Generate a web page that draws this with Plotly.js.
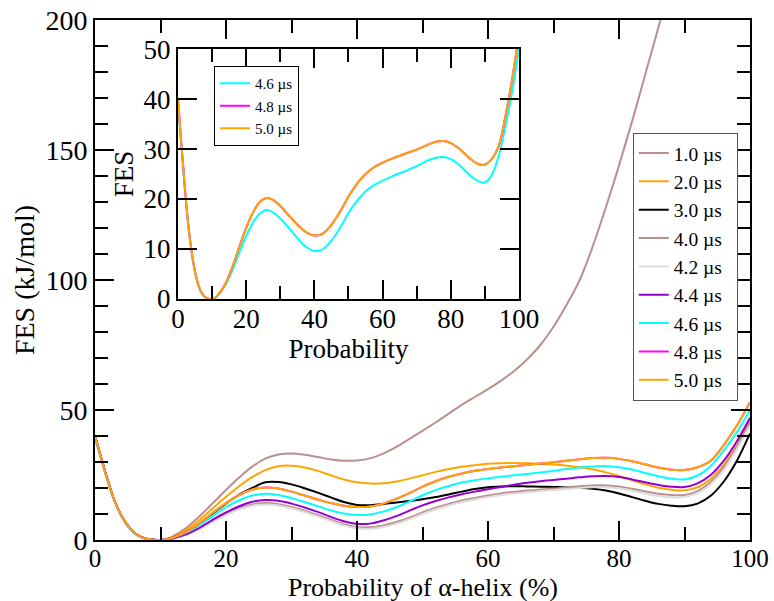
<!DOCTYPE html>
<html><head><meta charset="utf-8">
<script src="https://cdn.plot.ly/plotly-3.0.1.min.js"></script>
<style>html,body{margin:0;padding:0;background:#fff}#chart{width:774px;height:601px}</style>
</head><body><div id="chart"></div>
<script>
const xProb = [0,1,2,3,4,5,6,7,8,9,10,11,12,14,16,18,20,22,24,26,28,30,32,34,36,38,40,42,44,46,48,50,52,54,56,58,60,62,64,66,68,70,72,74,76,78,80,82,84,86,88,90,92,94,96,98,100];

const fes10 = [40,31,22.5,15,9.5,5.5,2.8,1.2,0.4,0.05,0,0.5,1.6,
  4.8,9.2,14.2,19.2,24.0,28.2,31.3,32.9,33.3,32.8,31.9,31.0,30.5,30.6,31.4,33.2,35.8,38.9,42.0,45.2,48.6,52.0,55.0,58.0,61.3,65.0,69.5,75,82,90.5,100,113,128,144,161,179,197,215,233,null,null,null,null,null];
const fes20 = [40,31,22.5,15,9.5,5.5,2.8,1.2,0.4,0.05,0,0.4,1.3,
  4.0,7.8,12.2,16.6,20.7,24.2,26.9,28.4,28.6,27.9,26.6,24.9,23.3,22.2,21.7,21.8,22.5,23.6,24.9,26.2,27.3,28.2,28.8,29.3,29.5,29.6,29.5,29.3,29.0,28.6,28.0,27.2,26.0,24.6,23.0,21.4,20.1,19.3,19.1,20.3,23.5,29,36.5,46];
const fes30 = [40,31,22.5,15,9.5,5.5,2.8,1.2,0.4,0.05,0,0.3,1.0,
  3.1,6.3,10.2,14.0,17.4,20.0,22.2,22.3,21.4,19.9,18.2,16.4,14.6,13.5,13.4,13.8,14.4,15.0,15.7,16.5,17.5,18.6,19.6,20.3,20.6,20.7,20.6,20.5,20.4,20.3,20.1,19.7,19.0,17.9,16.5,15.1,13.9,13.2,13.0,14.0,17,22.5,30.5,41];
const fes40 = [40,31,22.4,15,9.4,5.4,2.7,1.1,0.3,0,0,0.2,0.7,
  2.2,4.5,7.4,10.1,12.3,13.7,14.2,13.8,12.7,11.3,9.6,7.8,6.1,5.0,4.9,5.6,6.9,8.6,10.6,12.4,13.9,15.2,16.2,17.1,17.9,18.5,19.0,19.4,19.8,20.3,20.7,21.0,21.0,20.6,19.7,18.7,17.8,17.3,17.3,18.8,22.3,28,36,45.5];
const fes42 = [39.5,30.5,22,14.7,9.2,5.2,2.5,1.0,0.3,0,0,0.2,0.6,
  2.0,4.2,7.0,9.6,11.8,13.2,13.7,13.3,12.2,10.8,9.1,7.3,5.6,4.5,4.3,5.0,6.3,8.0,10.0,11.8,13.3,14.6,15.6,16.5,17.3,17.9,18.4,18.8,19.2,19.6,20.0,20.3,20.3,19.9,19.0,17.9,16.9,16.4,16.5,18.0,21.5,27,35,44];
const fes44 = [40,31,22.5,15,9.5,5.5,2.8,1.2,0.4,0.1,0,0.2,0.7,
  2.3,4.8,7.8,10.6,13.0,14.7,15.4,15.1,14.0,12.5,10.8,8.9,7.2,6.2,6.3,7.5,9.2,11.3,13.3,15.0,16.4,17.6,18.6,19.5,20.4,21.3,22.0,22.6,23.1,23.6,24.1,24.5,24.6,24.2,23.3,22.2,21.2,20.5,20.4,21.8,25,30.5,38,47];
const fes46 = [39,30.5,22,14.8,9.3,5.3,2.6,1.0,0.3,0,0,0.3,0.9,
  2.9,5.8,9.3,12.6,15.3,17.1,17.8,17.3,16.1,14.6,13.0,11.4,10.2,9.6,9.8,10.9,12.6,14.8,17.2,19.2,20.8,22.1,23.0,23.7,24.3,24.9,25.4,26.0,26.6,27.3,27.9,28.3,28.4,28.0,27.1,25.8,24.5,23.6,23.3,24.8,28.5,34.5,41.5,50];
const fes48 = [40,31,22.5,15,9.5,5.5,2.8,1.2,0.4,0.05,0,0.3,1.0,
  3.2,6.5,10.5,14.2,17.3,19.4,20.2,19.8,18.6,17.1,15.6,14.2,13.2,12.7,12.9,14.0,15.8,18.0,20.5,22.6,24.3,25.6,26.6,27.3,27.9,28.4,28.9,29.4,29.9,30.5,31.1,31.5,31.6,31.2,30.3,29.1,27.9,27.0,26.9,28.0,30.5,36.5,44,53];
const fes50 = [40,31,22.5,15,9.5,5.5,2.8,1.2,0.4,0.05,0,0.3,1.0,
  3.2,6.5,10.5,14.2,17.3,19.4,20.2,19.8,18.6,17.1,15.6,14.2,13.2,12.7,12.9,14.0,15.8,18.0,20.5,22.6,24.3,25.6,26.6,27.3,27.9,28.4,28.9,29.4,29.9,30.5,31.1,31.5,31.6,31.2,30.3,29.1,27.9,27.0,26.9,28.0,30.5,36.5,44,53];

const seriesNames = ["1.0 µs","2.0 µs","3.0 µs","4.0 µs","4.2 µs","4.4 µs","4.6 µs","4.8 µs","5.0 µs"];
const seriesData = [fes10,fes20,fes30,fes40,fes42,fes44,fes46,fes48,fes50];
const seriesColors = ["#bc8f8f","#ffa500","#000000","#bc8f8f","#dcdcdc","#9400d3","#00ffff","#ff00ff","#ffa500"];
const insetIdx = [6,7,8];
const xTitleMain = 'Probability of α-helix (%)';

const FONT = "'Liberation Serif'";
const PAD = "\u00a0\u00a0";
const traces = [];
seriesData.forEach((d,i)=>{
  traces.push({x:xProb, y:d, type:'scatter', mode:'lines', name:seriesNames[i] + PAD,
    line:{color:seriesColors[i], width:2, shape:'spline', smoothing:1},
    xaxis:'x', yaxis:'y', legend:'legend', hoverinfo:'skip'});
});
insetIdx.forEach(i=>{
  traces.push({x:xProb, y:seriesData[i], type:'scatter', mode:'lines', name:seriesNames[i],
    line:{color:seriesColors[i], width:2, shape:'spline', smoothing:1},
    xaxis:'x2', yaxis:'y2', legend:'legend2', hoverinfo:'skip'});
});

function ax(extra){
  return Object.assign({showline:true, linecolor:'#000', linewidth:2, mirror:'ticks',
    ticks:'inside', ticklen:19, tickwidth:2, tickcolor:'#000', showgrid:false, zeroline:false,
    tickfont:{family:FONT, size:28, color:'#000'}}, extra);
}
const MINOR = {ticklen:13, tickwidth:2, tickcolor:'#000', ticks:'inside'};
const layout = {
  width:774, height:601,
  margin:{l:95, r:24, t:20, b:61},
  paper_bgcolor:'#fff', plot_bgcolor:'#fff',
  font:{family:FONT, color:'#000'},
  showlegend:true,
  xaxis: ax({range:[0,100], domain:[0,1], anchor:'y', tick0:0, dtick:20, ticklabelstandoff:-5,
    tickfont:{family:FONT, size:25, color:'#000'},
    minor:Object.assign({dtick:10}, MINOR)}),
  yaxis: ax({range:[0,200], domain:[0,1], anchor:'x', tick0:0, dtick:50,
    minor:Object.assign({dtick:10}, MINOR),
    title:{text:'FES (kJ/mol)', font:{family:FONT, size:28, color:'#000'}, standoff:3}}),
  xaxis2: ax({range:[0,100], domain:[0.1267,0.6473], anchor:'y2', tick0:0, dtick:20, ticklabelstandoff:-5,
    tickfont:{family:FONT, size:27, color:'#000'},
    minor:Object.assign({dtick:10}, MINOR),
    title:{text:'Probability', font:{family:FONT, size:27, color:'#000'}, standoff:0}}),
  yaxis2: ax({range:[0,50], domain:[0.4635,0.944], anchor:'x2', tick0:0, dtick:10,
    tickfont:{family:FONT, size:27, color:'#000'},
    title:{text:'FES', font:{family:FONT, size:27, color:'#000'}, standoff:2}}),
  annotations:[{text:xTitleMain, xref:'paper', yref:'paper', x:0.5, y:-0.0615,
    xanchor:'center', yanchor:'top', showarrow:false, borderpad:0,
    font:{family:FONT, size:26, color:'#000'}}],
  legend:{x:0.821, y:0.783, xanchor:'left', yanchor:'top', bgcolor:'#fff',
    bordercolor:'#555', borderwidth:1, font:{family:FONT, size:19.5, color:'#000'}},
  legend2:{x:0.1817, y:0.9115, xanchor:'left', yanchor:'top', bgcolor:'#fff',
    bordercolor:'#000', borderwidth:1, font:{family:FONT, size:15, color:'#000'}}
};
Plotly.newPlot('chart', traces, layout, {staticPlot:true, displayModeBar:false});
</script></body></html>
